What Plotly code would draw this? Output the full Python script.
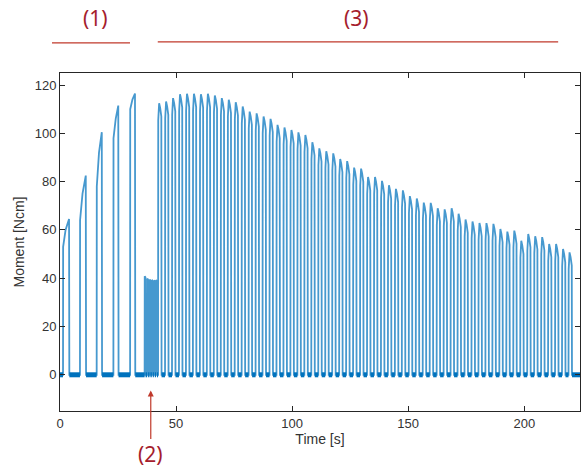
import plotly.graph_objects as go

# ---- Phase (1): ramped contractions ----------------------------------------
ramp_onset = [1.3, 8.6, 15.8, 23.0, 30.2]        # s
ramp_jump = [53, 64, 78, 98, 110]                # level reached at onset [Ncm]
ramp_mid_t = [2.4, 9.7, 16.8, 24.0, 31.2]        # s
ramp_mid = [60, 75, 92, 106, 114]                # Ncm
ramp_peak_t = [3.9, 11.1, 18.0, 25.1, 32.3]      # s
ramp_peak = [64.5, 82.5, 100.5, 111.5, 116.5]    # Ncm

# ---- Phase (2): short twitches ----------------------------------------------
twitch_t = [36.6, 37.7, 38.7, 39.7, 40.6, 41.5]  # s
twitch_peak = [40.8, 39.9, 39.5, 39.3, 39.1, 39.3]

# ---- Phase (3): fatigue protocol, one contraction every ~3 s -----------------
fatigue_t = [42.7, 45.7, 48.7, 51.7, 54.7, 57.7, 60.7, 63.7, 66.7, 69.7,
             72.7, 75.7, 78.7, 81.7, 84.7, 87.7, 90.7, 93.7, 96.7, 99.7,
             102.7, 105.7, 108.7, 111.7, 114.7, 117.7, 120.7, 123.7, 126.7, 129.7,
             132.7, 135.7, 138.7, 141.7, 144.7, 147.7, 150.7, 153.7, 156.7, 159.7,
             162.7, 165.7, 168.7, 171.7, 174.7, 177.7, 180.7, 183.7, 186.7, 189.7,
             192.7, 195.7, 198.7, 201.7, 204.7, 207.7, 210.7, 213.7, 216.7, 219.5]
fatigue_peak = [112.5, 113.2, 114.6, 116.2, 116.4, 116.4, 116.2, 116.4, 115.7, 114.6,
                113.9, 112.9, 111.1, 109.0, 108.3, 107.0, 106.0, 103.5, 102.4, 101.4,
                100.4, 99.3, 96.3, 93.8, 92.6, 91.7, 89.4, 88.5, 85.8, 85.4,
                81.9, 81.9, 80.3, 78.5, 77.0, 76.4, 74.0, 73.0, 71.3, 71.2,
                69.0, 68.5, 69.0, 66.7, 64.3, 63.5, 62.9, 62.8, 62.5, 60.4,
                59.3, 59.7, 55.5, 58.3, 57.4, 57.0, 54.2, 54.2, 52.1, 50.7]

t_end = 224.0

x_ticks = [0, 50, 100, 150, 200]
y_ticks = [0, 20, 40, 60, 80, 100, 120]

# ---- build the moment trace -------------------------------------------------
t, m = [0.0], [0.0]
rest_t, rest_m = [0.0], [0.0]


def add(pts):
    global rest_t, rest_m
    # rest segment up to the onset of this contraction
    rest_t += [pts[0][0], None]
    rest_m += [0.0, None]
    for a, b in pts:
        t.append(a)
        m.append(b)
    rest_t.append(pts[-1][0])
    rest_m.append(0.0)


for on, j, mt, mv, pt, pv in zip(ramp_onset, ramp_jump, ramp_mid_t, ramp_mid,
                                 ramp_peak_t, ramp_peak):
    add([(on, 0.0), (on + 0.05, j), (mt, mv), (pt, pv), (pt + 0.12, 0.0)])

for tt, pv in zip(twitch_t, twitch_peak):
    add([(tt - 0.15, 0.0), (tt - 0.1, pv), (tt + 0.2, pv - 0.4), (tt + 0.25, 0.0)])

for tt, pv in zip(fatigue_t, fatigue_peak):
    add([(tt - 0.45, 0.0), (tt - 0.38, pv - 7), (tt - 0.18, pv - 1.5), (tt, pv),
         (tt + 0.45, pv - 2), (tt + 0.95, pv - 5.5), (tt + 1.05, 0.0)])

t.append(t_end)
m.append(0.0)
rest_t.append(t_end)
rest_m.append(0.0)

blue = "#0072BD"
fig = go.Figure()
fig.add_trace(go.Scatter(x=t, y=m, mode="lines", opacity=0.72,
                         line=dict(color=blue, width=1.8)))
fig.add_trace(go.Scatter(x=rest_t, y=rest_m, mode="lines",
                         line=dict(color=blue, width=5), hoverinfo="skip"))

axis_col = "#262626"
common = dict(showline=True, linecolor=axis_col, linewidth=1, mirror="ticks",
              ticks="inside", ticklen=5, tickcolor=axis_col, showgrid=False,
              zeroline=False, tickfont=dict(family="Liberation Sans", size=13, color="#333333"))

fig.update_layout(
    width=581, height=474,
    margin=dict(l=60, r=1, t=73, b=63),
    paper_bgcolor="white", plot_bgcolor="white",
    showlegend=False,
    xaxis=dict(range=[0, t_end], tickvals=x_ticks,
               title=dict(text="Time [s]", standoff=2,
                          font=dict(family="Liberation Sans", size=14, color="#333333")),
               **common),
    yaxis=dict(range=[-15, 125], tickvals=y_ticks,
               title=dict(text="Moment [Ncm]", standoff=6,
                          font=dict(family="Liberation Sans", size=14, color="#333333")),
               **common),
)

red_txt = "#a51d2d"
red_line = "#c0392b"
# phase brackets above the axes
fig.add_shape(type="line", xref="paper", yref="paper", x0=-0.0154, x1=0.1346,
              y0=1.089, y1=1.089, line=dict(color=red_line, width=1.2))
fig.add_shape(type="line", xref="paper", yref="paper", x0=0.188, x1=0.958,
              y0=1.092, y1=1.092, line=dict(color=red_line, width=1.2))
fig.add_annotation(xref="paper", yref="paper", x=0.069, y=1.163, xanchor="center",
                   yanchor="middle", text="(1)", showarrow=False,
                   font=dict(family="Noto Sans", size=21, color=red_txt))
fig.add_annotation(xref="paper", yref="paper", x=0.571, y=1.163, xanchor="center",
                   yanchor="middle", text="(3)", showarrow=False,
                   font=dict(family="Noto Sans", size=21, color=red_txt))
fig.add_annotation(x=39.1, y=-6.5, xref="x", yref="y", text="(2)", showarrow=True,
                   ax=0, ay=64, arrowhead=2, arrowsize=1, arrowwidth=1.2,
                   arrowcolor=red_line,
                   font=dict(family="Noto Sans", size=21, color=red_txt))

fig.write_html("out.html")
